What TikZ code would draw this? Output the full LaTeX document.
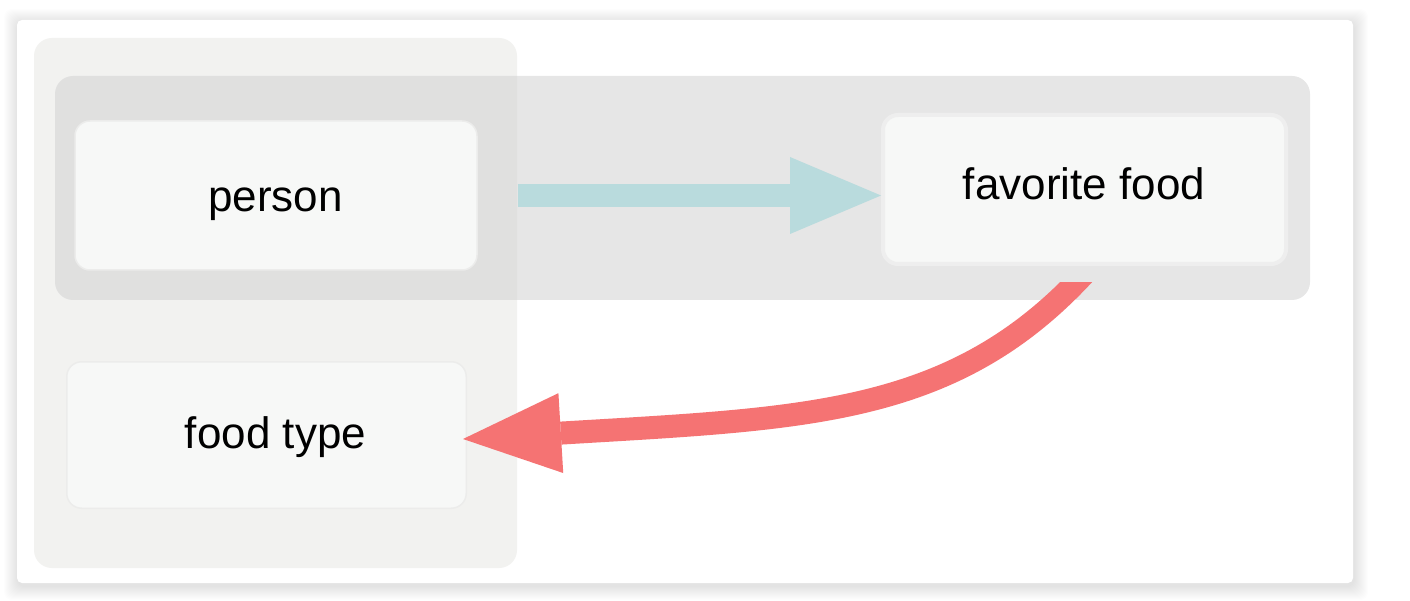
\documentclass[tikz,border=0pt]{standalone}
\usepackage{fontspec}
\setmainfont{Liberation Sans}
\usetikzlibrary{arrows.meta,calc}
\definecolor{cardshadow}{HTML}{000000}
\definecolor{leftgrp}{HTML}{F2F2F0}
\definecolor{rowgrp}{HTML}{D2D2D2}
\definecolor{nodefill}{HTML}{F7F8F7}
\definecolor{nodeedge}{HTML}{ECECEB}
\definecolor{nodeedgeb}{HTML}{EEEEEE}
\definecolor{bluearr}{HTML}{B9DBDD}
\definecolor{redarr}{HTML}{F57373}
\begin{document}
\begin{tikzpicture}[x=1pt,y=-1pt,
  entity/.style={draw=nodeedge, line width=1.5pt, fill=nodefill, rounded corners=15pt,
    minimum width=402pt, minimum height=149pt, inner sep=0pt},
  entitysel/.style={entity, draw=nodeedgeb, line width=4pt},
  lbl/.style={anchor=base, inner sep=0pt, font=\fontsize{44pt}{52pt}\selectfont, text=black},
  relblue/.style={draw=bluearr, line width=23pt,
    -{Triangle[length=91pt,width=77pt,line width=0pt]}},
  relred/.style={draw=redarr, line width=23pt,
    -{Triangle[length=98pt,width=80pt,line width=0pt]}}]
\useasboundingbox (0,0) rectangle (1410,601);
\fill[white] (0,0) rectangle (1410,601);
% card shadow
\foreach \i in {1,...,14}{
  \fill[cardshadow, opacity=0.007, rounded corners=8pt]
    (17-\i+1,20-\i+3) rectangle (1353+\i+1,583+\i+3);
}
\fill[white, rounded corners=5pt] (17,20) rectangle (1353,583);
% groups
\fill[leftgrp, rounded corners=18pt] (34,38) rectangle (517,568);
\fill[rowgrp, fill opacity=0.54, rounded corners=18pt] (55,76) rectangle (1310,300);
% entities
\node[entity] (person) at (276,195.5) {};
\node[entitysel, minimum width=403pt, minimum height=149pt] (favfood) at (1084.5,189.5) {};
\node[entity, minimum width=399.5pt, minimum height=146.5pt] (foodtype) at (266.5,435) {};
\node[lbl] (personlbl) at (275.5,211.7) {person};
\node[lbl] (favfoodlbl) at (1084,200) {favorite food};
\node[lbl] (foodtypelbl) at (275.5,448) {food type};
% relations
\draw[relblue, shorten <=40pt] (person.east) -- (favfood.west |- person.east);
\begin{scope}
  \clip (0,283) rectangle (1410,601);
  \draw[relred] ($(favfood.south)+(8.5,-2)$)
    .. controls ($(favfood.south)+(-125.5,150)$) and ($(foodtype.east)+(344,-17)$)
    .. ($(foodtype.east)+(-4,4)$);
\end{scope}
\end{tikzpicture}
\end{document}
